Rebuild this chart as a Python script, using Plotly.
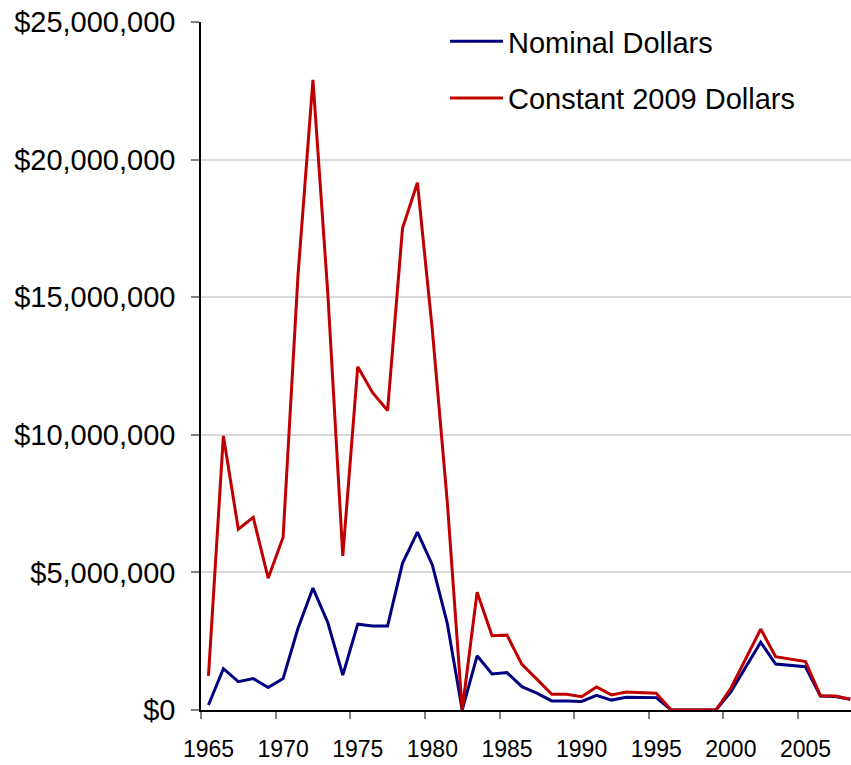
import plotly.graph_objects as go

years = list(range(1965, 2009))

nominal = [0.18e6, 1.50e6, 1.03e6, 1.14e6, 0.82e6, 1.14e6, 2.97e6, 4.43e6, 3.17e6, 1.27e6,
           3.12e6, 3.05e6, 3.05e6, 5.33e6, 6.46e6, 5.27e6, 3.15e6, 0.0, 1.97e6, 1.31e6,
           1.36e6, 0.85e6, 0.61e6, 0.33e6, 0.33e6, 0.31e6, 0.53e6, 0.36e6, 0.46e6, 0.45e6,
           0.45e6, 0.0, 0.0, 0.0, 0.0, 0.66e6, 1.55e6, 2.46e6, 1.67e6, 1.62e6,
           1.57e6, 0.51e6, 0.49e6, 0.39e6]

constant = [1.24e6, 9.96e6, 6.57e6, 7.00e6, 4.79e6, 6.28e6, 15.8e6, 22.9e6, 15.1e6, 5.60e6,
            12.47e6, 11.53e6, 10.88e6, 17.5e6, 19.16e6, 13.8e6, 7.57e6, 0.0, 4.28e6, 2.70e6,
            2.72e6, 1.66e6, 1.12e6, 0.57e6, 0.57e6, 0.48e6, 0.84e6, 0.55e6, 0.65e6, 0.64e6,
            0.61e6, 0.0, 0.0, 0.0, 0.0, 0.79e6, 1.84e6, 2.94e6, 1.94e6, 1.84e6,
            1.76e6, 0.52e6, 0.51e6, 0.39e6]

label_years = [y for y in years if (y - 1965) % 5 == 0]
tick_marks = [y - 0.5 for y in label_years]

FONT = "Arial, Liberation Sans, sans-serif"

fig = go.Figure()
fig.add_trace(go.Scatter(x=years, y=nominal, mode="lines", name="Nominal Dollars",
                         line=dict(color="#000080", width=3), legendgroup="a"))
fig.add_trace(go.Scatter(x=years, y=constant, mode="lines", name="Constant 2009 Dollars",
                         line=dict(color="#C00000", width=3), legendgroup="b"))

fig.update_layout(
    width=851, height=765,
    margin=dict(l=201, r=0, t=22, b=55),
    paper_bgcolor="white", plot_bgcolor="white",
    font=dict(family=FONT, color="black", size=23),
    showlegend=True,
    legend=dict(x=0.3754, y=1.0087, xanchor="left", yanchor="top",
                font=dict(size=29, family=FONT), bgcolor="rgba(0,0,0,0)",
                itemwidth=53, tracegroupgap=16, traceorder="grouped"),
    xaxis=dict(range=[1964.5, 2008.05], tickmode="array", tickvals=label_years,
               ticktext=[str(y) for y in label_years], ticks="",
               showline=True, linecolor="black", linewidth=1.5,
               showgrid=False, zeroline=False,
               tickfont=dict(size=23, family=FONT, color="black"), ticklabelstandoff=18,
               minor=dict(tickvals=tick_marks, ticks="outside", ticklen=7,
                          tickcolor="#808080", tickwidth=1.5, showgrid=False)),
    yaxis=dict(range=[0, 25e6], dtick=5e6, tickprefix="$", tickformat=",.0f",
               showline=True, linecolor="black", linewidth=1.5,
               ticks="outside", ticklen=8, tickcolor="#808080", tickwidth=1.5,
               showgrid=True, gridcolor="#D9D9D9", gridwidth=2, zeroline=False,
               tickfont=dict(size=29, family=FONT), ticklabelstandoff=10),
    shapes=[dict(type="rect", xref="paper", yref="paper", x0=0.2877, x1=1.0,
                 y0=0.994, y1=1.01, fillcolor="white", line=dict(width=0), layer="above")],
)

fig.write_html("out.html", config={"displayModeBar": False},
               post_script="document.body.style.margin='0';document.body.style.overflow='hidden';")
